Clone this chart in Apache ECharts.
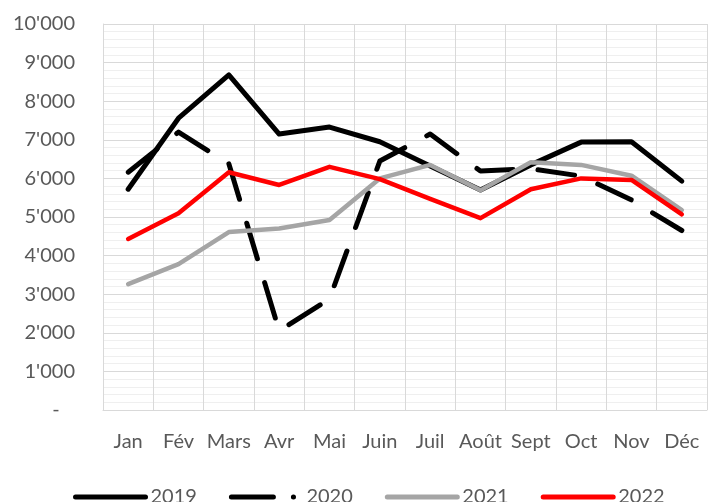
<!DOCTYPE html>
<html>
<head>
<meta charset="utf-8">
<script src="https://cdn.jsdelivr.net/npm/echarts@6/dist/echarts.min.js"></script>
<style>
  html, body { margin: 0; padding: 0; background: #fff; }
  #chart { width: 708px; height: 502px; }
</style>
</head>
<body>
<div id="chart"></div>
<script>
// monthly values
var months = ['Jan', 'Fév', 'Mars', 'Avr', 'Mai', 'Juin', 'Juil', 'Août', 'Sept', 'Oct', 'Nov', 'Déc'];
var data2019 = [5720, 7560, 8680, 7150, 7330, 6950, 6320, 5700, 6350, 6940, 6950, 5930];
var data2020 = [6160, 7200, 6380, 2050, 2880, 6450, 7150, 6190, 6250, 6060, 5440, 4650];
var data2021 = [3260, 3780, 4610, 4700, 4920, 6000, 6350, 5690, 6420, 6350, 6070, 5180];
var data2022 = [4430, 5100, 6160, 5830, 6300, 5980, 5470, 4970, 5720, 6000, 5960, 5070];
var yTicks = [0, 1000, 2000, 3000, 4000, 5000, 6000, 7000, 8000, 9000, 10000];

var font = 'Lato, "Open Sans", sans-serif';
var textColor = '#595959';

function fmt(v) {
    if (v === 0) return '-   ';
    return String(v).replace(/\B(?=(\d{3})+(?!\d))/g, "'");
}

var myChart = echarts.init(document.getElementById('chart'));

var option = {
    animation: false,
    grid: {
        left: 103,
        right: 1,
        top: 24,
        bottom: 92
    },
    legend: {
        left: 68,
        top: 482,
        itemWidth: 70,
        itemHeight: 8,
        itemGap: 32,
        itemStyle: { opacity: 0 },
        lineStyle: { width: 5, cap: 'round' },
        textStyle: { fontFamily: font, fontSize: 20, color: textColor },
        data: [
            { name: '2019' },
            { name: '2020', lineStyle: { width: 5, type: [42, 20, 0.1, 30], cap: 'round' } },
            { name: '2021' },
            { name: '2022' }
        ]
    },
    xAxis: {
        type: 'category',
        data: months,
        boundaryGap: true,
        axisLine: { lineStyle: { color: '#d9d9d9', width: 1 } },
        axisTick: { show: false },
        splitLine: { show: true, lineStyle: { color: '#d9d9d9', width: 1 } },
        axisLabel: { fontFamily: font, fontSize: 20, color: textColor, margin: 22, interval: 0 }
    },
    yAxis: {
        type: 'value',
        min: yTicks[0],
        max: yTicks[yTicks.length - 1],
        interval: 1000,
        axisLine: { show: true, lineStyle: { color: '#d9d9d9' } },
        axisTick: { show: false },
        splitLine: { lineStyle: { color: '#d9d9d9', width: 1 } },
        minorTick: { show: false, splitNumber: 5 },
        minorSplitLine: { show: true, lineStyle: { color: '#efefef', width: 1 } },
        axisLabel: { fontFamily: font, fontSize: 20, color: textColor, margin: 28, formatter: fmt }
    },
    series: [
        {
            name: '2019', type: 'line', data: data2019, symbol: 'none',
            itemStyle: { color: '#000000' },
            lineStyle: { color: '#000000', width: 5, cap: 'round', join: 'round' }
        },
        {
            name: '2020', type: 'line', data: data2020, symbol: 'none',
            itemStyle: { color: '#000000' },
            lineStyle: { color: '#000000', width: 5, type: [37, 25], cap: 'round', join: 'round' }
        },
        {
            name: '2021', type: 'line', data: data2021, symbol: 'none',
            itemStyle: { color: '#a5a5a5' },
            lineStyle: { color: '#a5a5a5', width: 4.5, cap: 'round', join: 'round' }
        },
        {
            name: '2022', type: 'line', data: data2022, symbol: 'none',
            itemStyle: { color: '#ff0000' },
            lineStyle: { color: '#ff0000', width: 4.5, cap: 'round', join: 'round' }
        }
    ]
};

myChart.setOption(option);
</script>
</body>
</html>
